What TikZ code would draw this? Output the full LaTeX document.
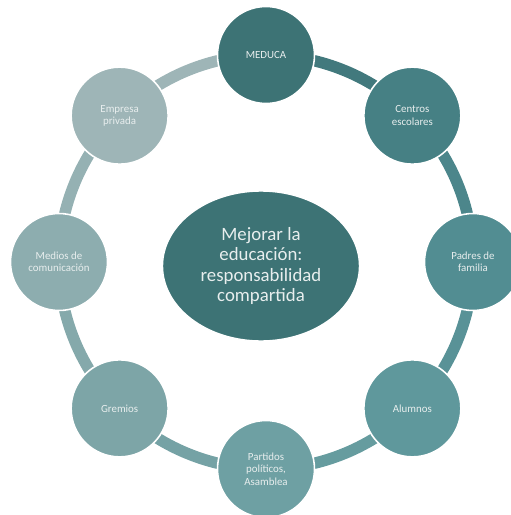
\documentclass[tikz,border=0pt]{standalone}
\usepackage{fontspec}
\setmainfont{Carlito}
\usetikzlibrary{positioning, shapes.geometric, backgrounds}
\definecolor{Cmed}{RGB}{61,115,117}
\definecolor{Ccen}{RGB}{70,128,132}
\definecolor{Cpad}{RGB}{82,141,146}
\definecolor{Calu}{RGB}{95,152,156}
\definecolor{Cpar}{RGB}{110,160,163}
\definecolor{Cgre}{RGB}{125,165,167}
\definecolor{Cmdc}{RGB}{141,173,175}
\definecolor{Cemp}{RGB}{158,181,183}
\definecolor{Chub}{RGB}{61,115,117}
\definecolor{Ctxt}{RGB}{232,238,238}
\tikzset{
  P/.style n args={1}{
    circle, draw=white, line width=0.9pt, fill=#1,
    minimum size=1.94cm, inner sep=1pt,
    align=center, text=Ctxt, font=\fontsize{6.2}{7}\selectfont
  },
  hub/.style={
    ellipse, draw=white, line width=0.8pt, fill=Chub,
    minimum width=3.94cm, minimum height=3.0cm, inner sep=0pt,
    align=center, text=Ctxt, font=\fontsize{10.7}{11.6}\selectfont
  },
  ring/.style n args={2}{
    draw=#1!50!#2, line width=6.5pt,
    bend left=22.5, looseness=0.885
  }
}

\begin{document}
\begin{tikzpicture}

\useasboundingbox (-5.32,-5.06) rectangle (4.90,5.24);

% ─────────────────────────────────────────────────────────────────────────────
%  CENTRE
% ─────────────────────────────────────────────────────────────────────────────
\node[hub] (goal) at (-0.1,-0.08)
  {Mejorar la\\educación:\\responsabilidad\\compartida};

% ─────────────────────────────────────────────────────────────────────────────
%  ACTORS  (clockwise from the top)
% ─────────────────────────────────────────────────────────────────────────────
\node[P={Cmed}] (meduca)   at (90:4.14)   {MEDUCA};
\node[P={Ccen}] (centros)  at (45:4.14)   {Centros\\escolares};
\node[P={Cpad}] (padres)   at (0:4.14)    {Padres de\\familia};
\node[P={Calu}] (alumnos)  at (-45:4.14)  {Alumnos};
\node[P={Cpar}] (partidos) at (-90:4.14)  {Partidos\\políticos,\\Asamblea};
\node[P={Cgre}] (gremios)  at (-135:4.14) {Gremios};
\node[P={Cmdc}] (medios)   at (180:4.14)  {Medios de\\comunicación};
\node[P={Cemp}] (empresa)  at (135:4.14)  {Empresa\\privada};

% ─────────────────────────────────────────────────────────────────────────────
%  RING  (centre to centre, hidden under the circles)
% ─────────────────────────────────────────────────────────────────────────────
\begin{scope}[on background layer]
  \draw[ring={Cmed}{Ccen}] (meduca.center)   to (centros.center);
  \draw[ring={Ccen}{Cpad}] (centros.center)  to (padres.center);
  \draw[ring={Cpad}{Calu}] (padres.center)   to (alumnos.center);
  \draw[ring={Calu}{Cpar}] (alumnos.center)  to (partidos.center);
  \draw[ring={Cpar}{Cgre}] (partidos.center) to (gremios.center);
  \draw[ring={Cgre}{Cmdc}] (gremios.center)  to (medios.center);
  \draw[ring={Cmdc}{Cemp}] (medios.center)   to (empresa.center);
  \draw[ring={Cemp}{Cemp}] (empresa.center)  to (meduca.center);
\end{scope}

\end{tikzpicture}
\end{document}
